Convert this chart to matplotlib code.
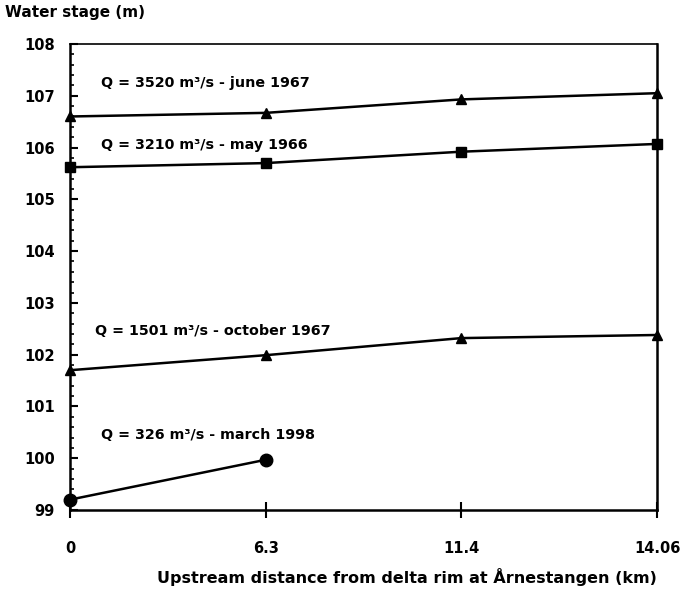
import matplotlib
matplotlib.use("Agg")
import matplotlib.pyplot as plt
from matplotlib.ticker import MultipleLocator

plt.rcParams['font.family'] = ['DejaVu Sans']
plt.rcParams['font.weight'] = 'bold'

x_labels = ["0", "6.3", "11.4", "14.06"]
june1967 = [106.6, 106.67, 106.93, 107.05]
may1966 = [105.62, 105.7, 105.92, 106.07]
oct1967 = [101.7, 101.99, 102.32, 102.38]
mar1998 = [99.2, 99.97]

labels = ["Q = 3520 m\u00b3/s - june 1967", "Q = 3210 m\u00b3/s - may 1966",
          "Q = 1501 m\u00b3/s - october 1967", "Q = 326 m\u00b3/s - march 1998"]

fig = plt.figure(figsize=(6.8, 5.92), dpi=100)
ax = fig.add_axes([70/680, 1-510/592, 587/680, 466/592])
pos = list(range(len(x_labels)))
lw = 1.8
ax.plot(pos, june1967, color='black', lw=lw, marker='^', ms=7, clip_on=False)
ax.plot(pos, may1966, color='black', lw=lw, marker='s', ms=7, clip_on=False)
ax.plot(pos, oct1967, color='black', lw=lw, marker='^', ms=7, clip_on=False)
ax.plot(pos[:len(mar1998)], mar1998, color='black', lw=lw, marker='o', ms=9, clip_on=False)

ax.set_xlim(0, 3)
ax.set_ylim(99, 108)
ax.set_xticks(pos)
ax.set_xticklabels(x_labels)
ax.yaxis.set_major_locator(MultipleLocator(1))
ax.yaxis.set_minor_locator(MultipleLocator(0.2))
ax.tick_params(axis='y', which='major', direction='in', length=6, width=1.5, labelsize=10.5, pad=11)
ax.tick_params(axis='y', which='minor', direction='in', length=3, width=1.2)
ax.tick_params(axis='x', which='major', direction='inout', length=12, width=1.5, labelsize=10.5, pad=16)
for lab in ax.get_xticklabels() + ax.get_yticklabels():
    lab.set_fontweight('bold')
for s in ax.spines.values():
    s.set_linewidth(1.8)
ax.spines['top'].set_linewidth(1.2)

ty = [107.25, 106.05, 102.45, 100.45]
tx = [0.16, 0.16, 0.13, 0.16]
for t, x, y in zip(labels, tx, ty):
    ax.text(x, y, t, fontsize=10.3, fontweight='bold', ha='left', va='center')

fig.text(5/680, 1-12/592, "Water stage (m)", fontsize=11, fontweight='bold', ha='left', va='center')
fig.text(407/680, 1-577/592, "Upstream distance from delta rim at Årnestangen (km)", fontsize=11.5,
         fontweight='bold', ha='center', va='center')

fig.savefig("out.png", dpi=100)
